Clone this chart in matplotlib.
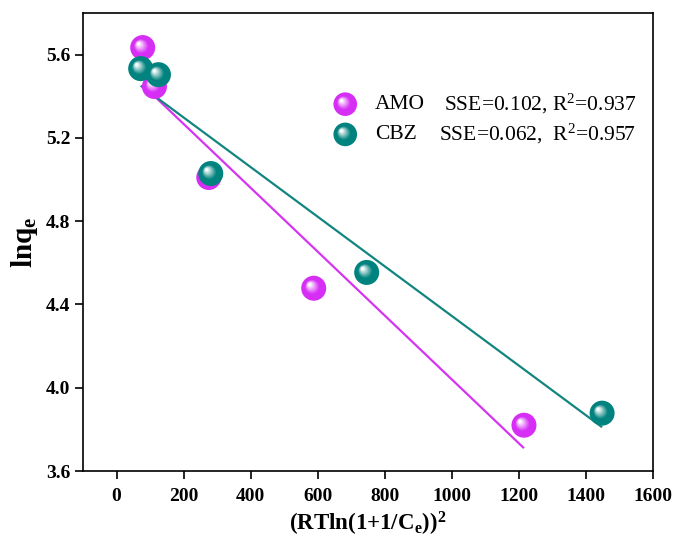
import numpy as np
import matplotlib
matplotlib.use("Agg")
import matplotlib.pyplot as plt
from matplotlib.transforms import ScaledTranslation
from matplotlib.colors import to_rgb

# data
amo_x = [78, 113, 275, 588, 1215]
amo_y = [5.634, 5.447, 5.01, 4.478, 3.82]
cbz_x = [72, 125, 281, 746, 1448]
cbz_y = [5.533, 5.504, 5.029, 4.554, 3.878]

series_names = ["AMO", "CBZ"]
series_stats = ["SSE=0.102, R$^{2}$=0.937", "SSE=0.062,  R$^{2}$=0.957"]
sphere_colors = ["#D62EF5", "#00827E"]
line_colors = ["#D535F0", "#13857F"]

x_ticks = [0, 200, 400, 600, 800, 1000, 1200, 1400, 1600]
y_ticks = [3.6, 4.0, 4.4, 4.8, 5.2, 5.6]

plt.rcParams["font.family"] = ["Liberation Serif", "DejaVu Serif"]
plt.rcParams["mathtext.fontset"] = "custom"
plt.rcParams["mathtext.rm"] = "Liberation Serif"
plt.rcParams["mathtext.it"] = "Liberation Serif:italic"
plt.rcParams["mathtext.bf"] = "Liberation Serif:bold"


def blend(c, t):
    c = np.array(to_rgb(c))
    return tuple(c + (1 - c) * t)


def spheres(ax, fig, xs, ys, color, transform, d=18, zorder=3):
    """Draw shaded 'glossy ball' markers (d = diameter in points)."""
    ax.scatter(xs, ys, s=d ** 2, color=color, edgecolors="none",
               transform=transform, zorder=zorder, clip_on=False)
    r = d / 2
    n = 7
    for i in range(n):
        f = i / (n - 1)
        size = d * (0.55 - 0.42 * f)
        dx = -0.32 * r * (0.4 + 0.6 * f)
        dy = 0.30 * r * (0.4 + 0.6 * f)
        tr = transform + ScaledTranslation(dx / 72, dy / 72, fig.dpi_scale_trans)
        ax.scatter(xs, ys, s=size ** 2, color=blend(color, 0.12 + 0.85 * f),
                   edgecolors="none", transform=tr, zorder=zorder, clip_on=False)


fig = plt.figure(figsize=(6.86, 5.52), dpi=100)
ax = fig.add_axes([0.121, 0.1467, 0.831, 0.8297])

# fitted lines (least squares over each series)
for xs, ys, lc in [(amo_x, amo_y, line_colors[0]), (cbz_x, cbz_y, line_colors[1])]:
    k, b = np.polyfit(xs, ys, 1)
    xx = np.array([min(xs), max(xs)])
    ax.plot(xx, k * xx + b, color=lc, lw=1.6, zorder=2, solid_capstyle="butt")

spheres(ax, fig, amo_x, amo_y, sphere_colors[0], ax.transData, zorder=3)
spheres(ax, fig, cbz_x, cbz_y, sphere_colors[1], ax.transData, zorder=4)

# legend drawn by hand
stat_x = [0.633, 0.625]
for i, (name, stat, col) in enumerate(zip(series_names, series_stats, sphere_colors)):
    yy = 0.801 - i * 0.066
    spheres(ax, fig, [0.46], [yy], col, ax.transAxes, d=17, zorder=5)
    ax.text(0.512, yy, name, transform=ax.transAxes, fontsize=15.5, va="center")
    ax.text(stat_x[i], yy, stat, transform=ax.transAxes, fontsize=15.5, va="center")

ax.set_xlim(-100, 1600)
ax.set_ylim(3.6, 5.8)
ax.set_xticks(x_ticks)
ax.set_yticks(y_ticks)
ax.set_xticklabels([str(t) for t in x_ticks], fontweight="bold")
ax.set_yticklabels([f"{t:.1f}" for t in y_ticks], fontweight="bold")
ax.tick_params(direction="out", length=6, width=1.2, labelsize=14)
ax.tick_params(axis="x", pad=6)
ax.tick_params(axis="y", pad=3)
for sp in ax.spines.values():
    sp.set_linewidth(1.2)

ax.set_xlabel(r"(RTln(1+1/C$_{\mathbf{e}}$))$^{\mathbf{2}}$", fontsize=16.5,
              fontweight="bold", labelpad=4)
ax.set_ylabel(r"lnq$_{\mathbf{e}}$", fontsize=21, fontweight="bold", labelpad=4)

fig.savefig("out.png", dpi=100)
